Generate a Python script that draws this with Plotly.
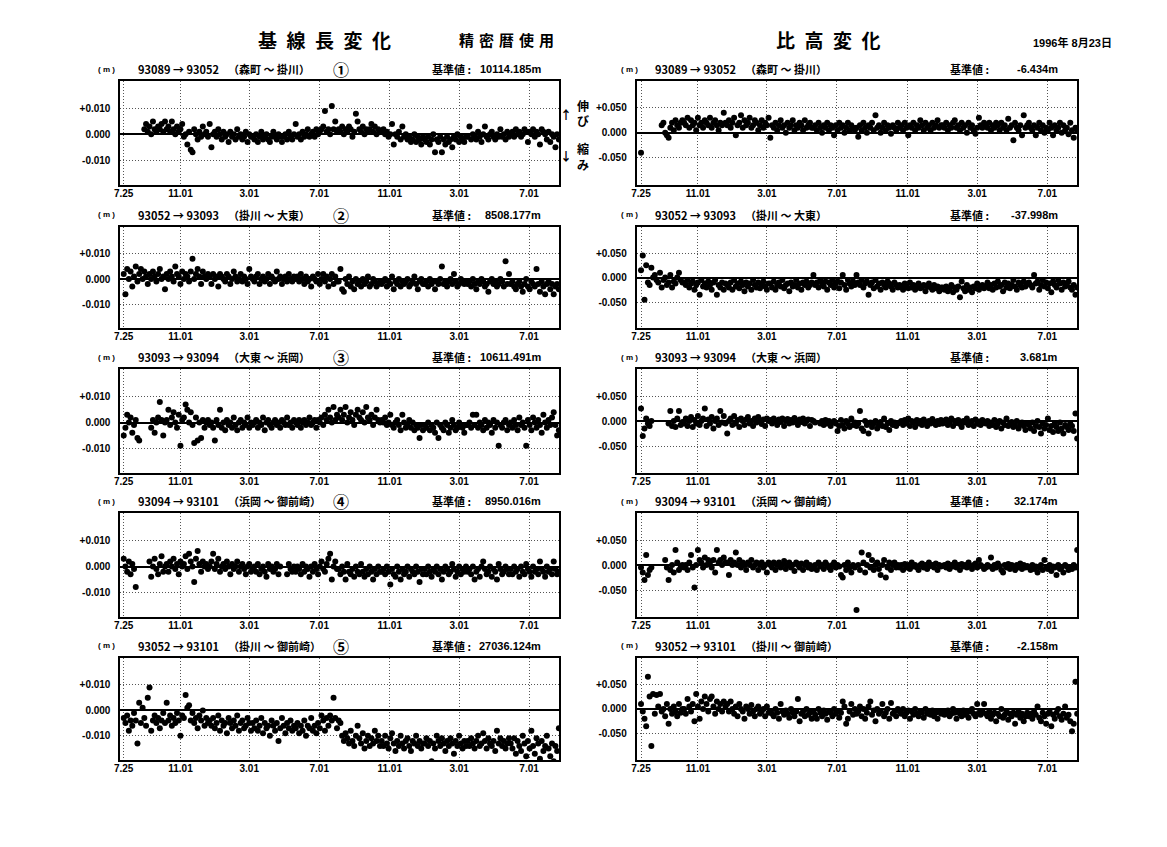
import pandas as pd
import plotly.graph_objects as go

# ---------------- data ----------------
tick_dates = ["1994-07-25", "1994-11-01", "1995-03-01", "1995-07-01",
              "1995-11-01", "1996-03-01", "1996-07-01"]
tick_text = ["7.25", "11.01", "3.01", "7.01", "11.01", "3.01", "7.01"]
start_date = "1994-07-25"   # observations read every 3 days
step = "3D"

pairs = ["93089 → 93052", "93052 → 93093", "93093 → 93094",
         "93094 → 93101", "93052 → 93101"]
names = ["（森町 ～ 掛川）", "（掛川 ～ 大東）", "（大東 ～ 浜岡）",
         "（浜岡 ～ 御前崎）", "（掛川 ～ 御前崎）"]
circ = ["①", "②", "③", "④", "⑤"]
base_len = ["10114.185m", "8508.177m", "10611.491m", "8950.016m", "27036.124m"]
base_hgt = ["-6.434m", "-37.998m", "3.681m", "32.174m", "-2.158m"]

# baseline length change (mm)
bl1 = [None, None, None, None, None, None, None, None, None, None, None, None, 2, 4, 1, 3, 0, 5, 2, 1, 3, 2, 4, 1, 5,
       2, 3, 1, 5, 2, 0, 3, 1, 2, 4, -1, 0, -4, 1, -6, -7, 2, 0, -2, 1, -1, 3, 0, 1, -1,
       4, -5, 0, 1, -1, 2, 0, -2, 1, -1, 0, -3, 1, -1, 0, -2, 2, -1, 0, -2, -1, 1, -3, 0, -1,
       -1, -2, 0, -3, -1, 1, -2, -1, 0, -2, -3, -1, 1, -1, -2, 0, -1, -3, -1, 0, -2, 1, -1, -2, 0,
       4, -1, 0, -2, 1, -1, 0, 2, -1, 0, 1, -1, 2, 0, 1, 2, 3, 9, 1, 2, 0, 11, 2, 5, 1,
       2, 1, 3, 0, 2, 1, 3, 2, -1, 1, 8, 5, 2, 1, 3, 0, 2, 1, 2, 4, 1, 3, 0, 2, 1,
       1, 2, 0, 1, -1, 0, 4, -4, 0, -1, 1, -2, 3, -1, 0, -2, -1, -3, -2, 0, -3, -1, -2, -4, -1,
       -2, -3, -1, -4, -2, 0, -7, -2, -3, -1, -7, -2, -4, -1, -3, -2, -5, -1, -2, 0, -3, -1, -2, -3, -1,
       -1, 3, -2, 0, -1, -2, 1, -1, -3, 0, 3, -1, -2, 0, 1, -1, -2, 0, -1, 2, -1, 0, -2, 1, -1,
       0, 1, -1, 2, 0, 1, -1, 0, 2, 1, -3, 1, 0, 2, -1, 1, 0, -4, 2, 1, 0, -2, 1, -3, 0,
       -1, -5, 0, -2]
bl2 = [2, -6, 4, 0, 3, -3, 1, 5, -1, 2, 4, 0, 3, 1, -2, 2, 0, 3, 1, -1, 2, 4, 0, 1, -4,
       2, 0, 3, 1, -1, 5, 2, 1, -2, 3, 0, 2, 1, -1, 3, 8, 0, 2, 4, 1, -2, 3, 1, 0, 2,
       1, -2, 2, 0, 1, -3, 2, 1, 0, -1, 2, 1, -2, 0, 3, 1, -1, 0, 2, -1, 1, 0, -2, 4, 1,
       0, -1, 1, 2, -2, 0, 1, -1, 0, 2, -2, 1, 0, -1, 3, 0, 1, -2, 0, 1, -1, 2, 0, -1, 1,
       0, 1, -1, 2, 0, -2, 1, -1, 0, -3, 1, 0, -1, 2, -2, 0, 2, -1, 1, -3, 0, 2, -2, 1, -1,
       -1, 4, -4, -5, 0, -2, 1, -3, -1, -4, 0, -2, -1, -3, 0, -2, -1, 1, -3, -2, 0, -1, -3, -2, -1,
       -2, -1, 0, -3, -1, -2, 1, -4, -1, -2, 0, -3, -1, -2, -1, 0, -3, -2, -1, 1, -2, -4, -1, 0, -2,
       -2, -1, -3, 0, -2, -1, -4, -1, -2, 0, 5, -2, -1, -3, -1, 0, -2, 2, -1, -3, -2, 0, -1, -2, -1,
       -2, -1, -3, 0, -2, -4, -1, -2, 0, -1, -3, -2, -5, -1, 0, -2, -1, -3, -2, 0, -1, -3, 7, -2, 2,
       -2, -1, -3, -4, -2, -1, -3, -5, -2, 0, -3, -4, -1, -2, -3, 4, -2, -5, -1, -3, -6, -2, -1, -4, -2,
       -6, -3, -2, -4]
bl3 = [-5, -2, 3, 0, 2, -4, -1, 1, -6, -7, None, None, None, None, None, None, -2, 1, -4, 0, 2, 8, 1, -5, 0,
       1, 5, -1, 2, 4, 0, -2, 3, -9, 1, 2, 7, 5, 0, 4, -1, -8, 2, -7, 0, -6, 1, -2, 0, 1,
       -1, 0, -2, -7, 1, -1, 5, -2, 0, -3, 1, -1, 0, -2, 2, -1, -3, 0, 1, -2, 0, -1, 2, -2, 0,
       -1, 0, 1, -2, 0, -1, 2, -3, 0, 1, -1, -2, 0, 1, -1, 0, -2, 1, 0, -1, 2, -1, 0, -2, 1,
       0, -1, 1, -2, 0, 1, -1, 0, 2, -1, 0, 1, -2, 1, 0, 2, -1, 3, 1, 5, 2, 0, 6, 1, 3,
       2, 5, 1, 3, 6, 0, 2, 4, 1, -1, 3, 5, 2, 1, 4, 0, 6, 2, 1, 3, -1, 2, 5, 1, 0,
       1, 0, 2, -1, 0, 3, -1, -2, 0, 1, -1, -3, 3, 0, -2, -1, 1, -2, 0, -3, -1, -2, -6, -1, -3,
       -1, -2, 0, -3, -1, -2, -4, 0, -6, -1, -2, -3, 0, -1, -4, -2, 1, -1, -3, -2, 0, -1, -2, -4, -1,
       -1, 0, -2, 3, -1, 3, -2, 0, -1, -3, 1, -2, 0, -1, -4, 1, -2, 0, -9, -1, -2, 0, 1, -3, -1,
       0, -2, 1, -1, -3, 2, -1, 0, -2, -9, 1, -1, -3, 2, 0, -2, 1, -1, -4, 3, 0, -2, 1, -1, 2,
       4, -1, -5, -3]
bl4 = [3, 0, -2, 2, -3, 1, -1, -8, None, None, None, None, None, None, None, 2, -4, 0, 3, -1, -3, 1, 4, -2, 0,
       1, -2, 2, 0, 3, -1, 1, -3, 2, 0, 1, 4, -1, 5, 2, 0, -6, 3, 6, 1, -2, 2, 0, 1, -1,
       0, 2, 5, -1, 1, 3, -2, 0, 1, -1, 2, 0, -3, 1, -1, 0, 2, -2, 0, 1, -1, -3, 0, 1, -2,
       -1, 0, -2, 1, -3, -1, 0, -2, -4, 1, -1, 0, -2, -1, 1, -3, 0, None, None, None, -3, 1, -1, -2, 0,
       -2, 0, -1, -3, 1, -2, 0, -1, -4, 0, -2, 1, -1, -3, 0, 2, -1, -2, 1, 3, 5, -5, 0, 2, -1,
       -1, -3, 0, -2, -5, 1, -2, -3, -1, -4, 0, -2, -3, 1, -2, -4, -1, -3, 0, -2, -5, -1, -3, 0, -2,
       -2, -1, -3, 0, -2, -7, -1, -3, -4, 0, -2, -5, -1, -3, -2, 0, -4, -1, -2, -3, 0, -2, -6, -1, -3,
       -1, -3, 0, -2, -4, -1, -2, 0, -3, -1, -5, -2, 0, -1, -3, -2, 1, -1, -4, -2, 0, -3, -1, -2, 0,
       -2, -1, -3, 0, -5, -2, -1, -4, 0, 2, -1, -3, -2, 0, -4, -1, -2, -5, 1, -1, -3, -2, 0, -1, -3,
       -1, -3, 0, -2, -1, -4, 0, -2, -3, 1, -1, -2, -4, 0, -2, -1, -3, 2, -1, -2, -4, 0, -2, -1, -3,
       2, -1, -3, -2]
bl5 = [-3, -5, -2, -8, -4, -6, -1, -4, -13, 3, -5, 1, -3, -6, 5, 9, -8, -4, -2, -5, -3, -7, -4, -1, -5,
       3, -4, -2, -6, -3, -5, -1, -4, -10, -2, -3, 6, 1, 2, -4, -1, -5, -3, -7, -2, -4, 0, -6, -3, -5,
       -4, -6, -3, -7, -5, -2, -8, -4, -6, -5, -9, -3, -5, -7, -4, -6, -2, -8, -5, -4, -7, -6, -3, -5, -8,
       -5, -7, -4, -8, -6, -3, -9, -5, -7, -6, -10, -4, -6, -8, -5, -12, -7, -3, -6, -9, -5, -7, -4, -8, -6,
       -7, -5, -9, -6, -8, -4, -10, -6, -7, -3, -8, -6, -9, -5, -7, -2, -4, -8, -3, -6, -2, -4, 5, -3, -7,
       -4, -5, -10, -12, -9, -11, -13, -8, -12, -14, -10, -6, -11, -13, -9, -15, -12, -10, -14, -11, -13, -8, -12, -10, -14,
       -12, -14, -10, -13, -15, -11, -9, -13, -16, -12, -14, -10, -13, -15, -12, -11, -14, -16, -12, -13, -10, -14, -12, -15, -13,
       -13, -11, -14, -12, -20, -13, -15, -10, -12, -14, -11, -13, -16, -12, -14, -11, -13, -17, -12, -14, -10, -13, -15, -12, -14,
       -12, -14, -11, -13, -15, -12, -10, -14, -13, -9, -12, -15, -11, -13, -14, -12, -16, -8, -13, -11, -14, -12, -15, -13, -11,
       -13, -15, -11, -17, -12, -14, -16, -10, -13, -18, -12, -15, -8, -14, -17, -11, -13, -19, -12, -16, -14, -10, -15, -18, -13,
       -20, -14, -16, -7]

# height difference change (mm)
hd1 = [-40, None, None, None, None, None, None, None, None, None, None, None, 15, 20, 0, -5, -10, 10, 20, 5, 25, 15, 10, 20, 25,
       20, 15, 30, 10, 25, 15, 20, 5, 30, 15, 20, 10, 25, 20, 15, 30, 10, 20, 25, 15, 5, 20, 15, 40, 20,
       15, 25, 10, 20, 30, -5, 15, 20, 35, 10, 25, 15, 20, 30, 10, 15, 25, 20, 5, 15, 25, 10, 20, 15, 30,
       -10, 15, 10, 20, 5, 15, 25, 10, 15, 0, 20, 10, 15, 25, 5, 15, 10, 20, 15, 5, 25, 10, 15, 20, 10,
       10, 15, 5, 20, 10, 0, 15, 10, 20, 5, 15, 10, -5, 15, 5, 20, 10, 15, 0, 10, 20, 5, 15, 10, 5,
       10, -8, 15, 5, 20, 10, 0, 15, 10, 20, 5, 35, 10, 15, 0, 10, 20, 5, 15, 10, -2, 15, 10, 5, 20,
       10, 15, 5, 20, 10, -5, 15, 10, 20, 5, 15, 10, 25, 15, 5, 20, 10, 15, 5, 20, 10, 15, 25, 10, 15,
       15, 10, 20, 5, 15, 10, 20, 25, 10, 15, 5, 20, 10, 15, 0, 20, 10, 15, 5, -2, 10, 30, 15, 10, 20,
       15, 10, 20, 5, 15, 10, 20, 15, 5, 20, 10, 15, 5, 28, 10, 15, -15, 20, 10, 5, 15, -5, 35, 10, 15,
       20, 10, 5, 15, -5, 10, 20, 5, 15, 0, 10, 5, 20, 10, -5, 15, 5, 10, 20, 0, 15, 5, 10, -3, 20,
       5, -10, 10, 5]
hd2 = [15, 45, -45, 25, -10, -15, 20, 0, 5, -5, -10, 10, -20, -5, 0, -15, -10, 5, -20, -8, -12, 0, 10, -5, -10,
       -10, -15, -5, -20, -12, -8, -25, -15, -10, -35, -5, -18, -12, -20, -8, -15, -25, -10, -5, -35, -15, -20, -10, -25, -12,
       -15, -20, -10, -25, -5, -18, -12, -22, -8, -15, -28, -10, -18, -12, -25, -5, -15, -20, -10, -22, -15, -8, -18, -25, -12,
       -12, -20, -8, -25, -15, -10, -18, -5, -22, -15, -12, -28, -10, -18, -15, -5, -20, -12, -25, -10, -15, -8, -20, -15, -10,
       5, -15, -10, -20, -5, -12, -18, -8, -25, -10, -15, -5, -20, -12, -8, -22, -10, 5, -15, -25, -5, -12, -18, -8, -15,
       5, -10, -15, -5, -20, -12, -8, -35, -15, -10, -22, -5, -18, -12, -25, -10, -15, -20, -8, -12, -18, -25, -10, -15, -20,
       -15, -20, -25, -12, -18, -22, -10, -20, -15, -25, -18, -12, -22, -20, -15, -28, -18, -12, -20, -25, -15, -22, -18, -28, -20,
       -20, -25, -18, -28, -22, -15, -30, -20, -25, -18, -40, -8, -22, -28, -15, -25, -20, -30, -18, -22, -12, -25, -20, -15, -22,
       -18, -10, -22, -15, -25, -12, -20, -8, -18, -15, -28, -10, -20, -12, -22, -15, -5, -18, -25, -10, -15, -20, -8, -18, -12,
       -10, -15, -20, 5, -12, -8, -25, -15, -5, -18, -10, -22, -12, -30, -8, -15, -20, -5, -12, -25, -10, -18, -15, -8, -20,
       -25, -15, -35, -20]
hd3 = [25, -30, -15, 5, -5, -10, 0, None, None, None, None, None, None, None, None, None, -5, 20, -10, 0, -12, 5, 20, -8, -2,
       -5, 5, -10, 0, 8, -12, 2, -5, 10, -8, 0, 5, 25, -10, 3, -5, 8, -15, 0, 5, -8, 20, -3, 10, -5,
       -25, 0, 5, -8, 10, -5, 2, -12, 5, 0, -8, 3, 8, -5, 0, -10, 5, -3, 8, 0, -6, 3, -10, 5, 0,
       2, -5, 5, 0, -8, 3, -2, 5, -10, 0, 4, -5, 2, -3, 6, 0, -8, 3, -2, 5, -5, 0, 3, -10, 2,
       0, -3, None, None, -5, 0, -8, 2, -5, 0, -10, -3, 0, -5, -20, -10, 2, -8, -15, 0, -5, -12, 5, -8, -3,
       -10, -5, 20, -15, -20, 0, -8, -25, -3, -12, -5, 0, -15, -8, -2, -10, 5, -12, -5, -18, 0, -8, -3, -10, -5,
       -3, 0, -8, 2, -5, 5, -10, 0, -3, -12, 2, -5, 0, -8, 3, -2, -10, 0, -5, 4, -3, -8, 0, -6, 2,
       -5, 0, 3, -8, -2, 5, -10, 0, -4, 2, -6, -12, 0, -3, 5, -8, -2, 0, -10, 3, -5, -1, -8, 2, -4,
       -5, 0, -10, -3, -8, 2, -12, -5, 0, -15, -3, -8, 5, -10, -5, -2, -12, -8, 0, -15, -6, -3, -10, -18, -5,
       -8, -15, -3, -20, -10, 0, -12, -25, -5, -15, -8, 5, -18, -10, -22, -5, -12, -20, -3, -15, -25, -8, -12, -18, -5,
       -10, -20, 15, -35]
hd4 = [-5, -15, -30, 20, -20, -10, -5, None, None, None, None, None, None, None, 10, -5, -30, -10, 0, -15, 30, 5, -10, -5, 0,
       -5, 0, -10, 5, 20, -5, -45, 0, 30, 10, 5, -5, 15, 0, 10, 5, -5, 10, -15, 30, 5, 10, 0, 15, 5,
       5, -20, 10, 0, 5, 25, 0, 10, -5, 5, 0, -10, 5, 0, 10, -5, 0, 5, -10, 0, 5, -5, 0, -15, 5,
       0, -5, 5, -10, 0, 5, -5, 0, 8, -8, 0, 5, -5, 0, -12, 5, 0, -5, 3, -10, 0, 5, -5, 0, -8,
       -5, 0, -10, 5, -3, 0, -8, 5, 0, -5, -10, 0, 5, -5, 0, -3, -20, -25, 0, -10, 5, -5, -15, 0, -5,
       -90, 0, -10, 25, 5, -15, 0, 20, -5, 10, -10, 0, 5, -8, -20, 0, 10, -25, -5, 5, -10, 0, 5, -5, 0,
       -5, 0, -10, 2, -5, 0, -8, 5, -3, 0, -5, -10, 0, 3, -5, 0, -8, 5, -2, 0, -5, 3, -10, 0, -3,
       -2, 0, -5, 3, -8, 0, -3, 5, -5, 0, -10, 2, -3, 0, -5, 5, -2, -8, 0, 3, -5, 10, 0, -3, -8,
       -5, 0, -3, 15, -8, 0, -5, 3, -2, -10, -15, 0, -5, 2, -8, 0, -3, -10, 0, -5, 3, -8, 0, -5, -2,
       -5, -10, 0, -8, -3, -15, -5, 0, -10, 10, -5, -8, 0, -12, -3, -5, -20, 0, -8, -5, -15, 0, -3, -10, -5,
       -8, 0, -5, 30]
hd5 = [10, -5, -20, -35, 65, 25, -75, 30, -10, 28, 5, 30, -5, 0, -15, 10, -30, 0, -10, 5, -5, -15, 10, -8, 0,
       0, -10, 20, 5, -5, 10, -25, 30, 5, -20, 15, 0, 25, 10, -5, 20, 25, 5, -10, 15, 0, 10, -5, 15, 5,
       10, -5, 15, 0, -10, 5, -15, 10, 0, -5, -20, 5, 0, -10, 8, -5, -15, 0, 5, -10, -5, 0, -15, 5, -8,
       -5, -10, -15, 0, -8, -20, 10, -5, -12, -3, -10, -18, 0, -8, -15, -5, 20, -25, -10, -5, -15, 0, -12, -8, -20,
       -5, -12, -20, 0, -8, -15, -3, -10, -22, -5, -8, -15, 0, -10, -5, -18, -8, 15, 5, -30, -20, -5, 10, -12, 0,
       -10, -5, 5, -15, 0, -20, -8, 5, 15, -12, -3, -25, 0, -10, -5, 10, -15, -8, 0, -20, 12, -10, -5, -15, 0,
       -5, -10, 0, -15, -8, -3, -20, -5, -12, 0, -10, -15, -5, -8, -18, 0, -10, -5, -12, -3, -15, -8, -20, -5, -10,
       -5, -12, -8, -3, -15, -10, 0, -8, -20, -5, -10, -15, -3, -12, -8, -18, -5, 0, -10, -15, 10, -8, -12, -5, 10,
       -10, -15, -5, -20, -12, -8, -25, -10, -15, 0, -18, -12, -5, -22, -10, -15, -8, -30, -12, -5, -18, -10, -25, -15, -8,
       -15, -10, -20, -5, -12, 5, -18, -25, -8, -15, -30, -10, -5, -35, -12, -20, -8, 0, -15, -22, -10, 5, -18, -12, -25,
       -45, -30, 55, -10]

len_series = [bl1, bl2, bl3, bl4, bl5]
hgt_series = [hd1, hd2, hd3, hd4, hd5]

# ---------------- layout geometry (window pixels) ----------------
PAGE_W, PAGE_H = 1167, 847
OFF = 8                        # default body margin of the html page
W, H = PAGE_W - OFF, PAGE_H - OFF
tops = [81, 226.7, 369.3, 513.3, 657.7]
bottoms = [184.5, 328.3, 472.7, 616.7, 760]
cols = [(115, 556), (634, 1077)]
xranges = [["1994-07-19 08:00", "1996-08-22 12:00"],
           ["1994-07-17 14:00", "1996-08-22 12:00"]]
yranges = [[-0.0195, 0.0207], [-0.1035, 0.1038]]
ytickvals = [[-0.01, 0.0, 0.01], [-0.05, 0.0, 0.05]]
yticktext = [["-0.010", "0.000", "+0.010"], ["-0.050", "0.000", "+0.050"]]

NUM_FONT = "Liberation Sans, Noto Sans CJK JP, sans-serif"
CJK_FONT = "Noto Sans CJK JP, Liberation Sans, sans-serif"


def fx(x):
    return (x - OFF) / W


def fy(y):
    return 1 - (y - OFF) / H


fig = go.Figure()
layout = {}
k = 0
for r in range(5):
    for c in range(2):
        k += 1
        xs = "x" if k == 1 else f"x{k}"
        ys = "y" if k == 1 else f"y{k}"
        vals = len_series[r] if c == 0 else hgt_series[r]
        dates = pd.date_range(start_date, periods=len(vals), freq=step)
        yv = [None if v is None else v / 1000.0 for v in vals]
        fig.add_trace(go.Scatter(
            x=dates, y=yv, mode="markers",
            marker=dict(size=6, color="black", line=dict(width=0)),
            xaxis=xs, yaxis=ys, showlegend=False, hoverinfo="skip"))
        x0, x1 = cols[c]
        layout["xaxis" if k == 1 else f"xaxis{k}"] = dict(
            domain=[fx(x0), fx(x1)], anchor=ys, type="date",
            range=xranges[c], tickmode="array",
            tickvals=tick_dates, ticktext=tick_text,
            showgrid=True, gridcolor="#555555", griddash="1px,2px", gridwidth=1,
            showline=True, mirror=True, linecolor="black", linewidth=2,
            ticks="", ticklabelstandoff=-2,
            tickfont=dict(family=NUM_FONT, size=10, color="black", weight="bold"),
            zeroline=False, fixedrange=True)
        layout["yaxis" if k == 1 else f"yaxis{k}"] = dict(
            domain=[fy(bottoms[r]), fy(tops[r])], anchor=xs,
            range=yranges[c], tickmode="array",
            tickvals=ytickvals[c], ticktext=yticktext[c],
            showgrid=True, gridcolor="#555555", griddash="1px,2px", gridwidth=1,
            zeroline=True, zerolinecolor="black", zerolinewidth=1.6,
            showline=True, mirror=True, linecolor="black", linewidth=2,
            ticks="outside", ticklen=6, tickcolor="rgba(0,0,0,0)",
            tickfont=dict(family=NUM_FONT, size=10, color="black", weight="bold"),
            fixedrange=True)

ann = []


def add_text(x, y, text, size, anchor="left", family=NUM_FONT):
    ann.append(dict(x=fx(x), y=fy(y), xref="paper", yref="paper",
                    text=text, showarrow=False, xanchor=anchor, yanchor="middle",
                    borderpad=0,
                    font=dict(family=family, size=size, color="black")))


SP = "\u2002"
SP3 = "\u2004"
# titles
add_text(320, 40, "<b>" + SP.join("基線長変化") + "</b>", 19, "center", CJK_FONT)
add_text(503, 40, "<b>" + SP3.join("精密暦使用") + "</b>", 15, "center", CJK_FONT)
add_text(827, 40, "<b>" + SP.join("比高変化") + "</b>", 19, "center", CJK_FONT)
add_text(1072, 43, "<b>1996年 8月23日</b>", 11, "center", NUM_FONT)

# panel headers
for r in range(5):
    y = tops[r] - 12
    add_text(101, y, "<b>( m )</b>", 8, "center")
    add_text(132, y, f"<b>{pairs[r]}</b>", 11, "left", CJK_FONT)
    add_text(222, y, f"<b>{names[r]}</b>", 11, "left", CJK_FONT)
    add_text(337, y, f"<b>{circ[r]}</b>", 16, "center", CJK_FONT)
    add_text(427, y, "<b>基準値 :</b>", 11, "left", CJK_FONT)
    add_text(539, y, f"<b>{base_len[r]}</b>", 11, "right")
    add_text(627, y, "<b>( m )</b>", 8, "center")
    add_text(651, y, f"<b>{pairs[r]}</b>", 11, "left", CJK_FONT)
    add_text(742, y, f"<b>{names[r]}</b>", 11, "left", CJK_FONT)
    add_text(948, y, "<b>基準値 :</b>", 11, "left", CJK_FONT)
    add_text(1058, y, f"<b>{base_hgt[r]}</b>", 11, "right")

# extension / contraction marks beside the first panel
add_text(563, 114, "<b>↑</b>", 12, "center", CJK_FONT)
add_text(580, 105, "<b>伸</b>", 12, "center", CJK_FONT)
add_text(580, 120, "<b>び</b>", 12, "center", CJK_FONT)
add_text(580, 149, "<b>縮</b>", 12, "center", CJK_FONT)
add_text(580, 165, "<b>み</b>", 12, "center", CJK_FONT)
add_text(563, 156, "<b>↓</b>", 12, "center", CJK_FONT)

fig.update_layout(
    width=W, height=H, autosize=False,
    margin=dict(l=0, r=0, t=0, b=0),
    paper_bgcolor="white", plot_bgcolor="white",
    annotations=ann, **layout)

fig.write_html("out.html")
